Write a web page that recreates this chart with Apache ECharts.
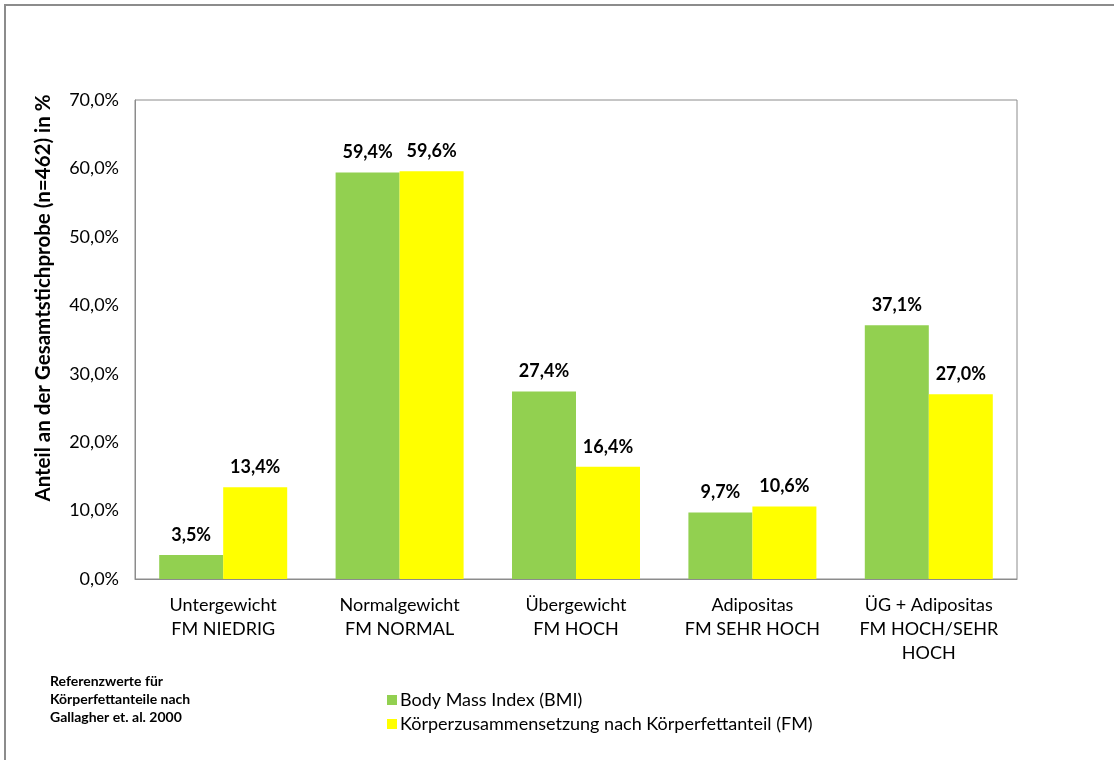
<!DOCTYPE html>
<html>
<head>
<meta charset="utf-8">
<script src="https://cdn.jsdelivr.net/npm/echarts@6/dist/echarts.min.js"></script>
<style>
html,body{margin:0;padding:0;background:#fff;}
#chart{width:1114px;height:760px;}
</style>
</head>
<body>
<div id="chart"></div>
<script>
// Categories (BMI class / body-fat class)
const categories = [
  'Untergewicht\nFM NIEDRIG',
  'Normalgewicht\nFM NORMAL',
  'Übergewicht\nFM HOCH',
  'Adipositas\nFM SEHR HOCH',
  'ÜG + Adipositas\nFM HOCH/SEHR\nHOCH'
];
// Share of the total sample in percent
const bmiValues = [3.5, 59.4, 27.4, 9.7, 37.1];
const fmValues = [13.4, 59.6, 16.4, 10.6, 27.0];
const seriesNames = ['Body Mass Index (BMI)', 'Körperzusammensetzung nach Körperfettanteil (FM)'];
const yAxisTitle = 'Anteil an der Gesamtstichprobe (n=462) in %';
const noteLines = ['Referenzwerte für', 'Körperfettanteile nach', 'Gallagher et. al. 2000'];

const FONT = 'Lato, "Open Sans", sans-serif';
const fmt = v => v.toFixed(1).replace('.', ',') + '%';

const chart = echarts.init(document.getElementById('chart'), null, {renderer: 'canvas'});
const labelCfg = {
  show: true,
  position: 'top',
  distance: 11,
  formatter: p => fmt(p.value),
  fontFamily: FONT,
  fontWeight: 'bold',
  fontSize: 18,
  color: '#000'
};

chart.setOption({
  animation: false,
  backgroundColor: '#fff',
  grid: {
    left: 135, right: 97, top: 100, bottom: 181,
    show: true, borderColor: '#8c8c8c', borderWidth: 1, backgroundColor: 'transparent'
  },
  legend: {
    orient: 'vertical',
    left: 382, top: 686,
    itemWidth: 10, itemHeight: 10, itemGap: 6,
    icon: 'rect',
    textStyle: {fontFamily: FONT, fontSize: 18, color: '#000', padding: [0, 0, 0, -2]},
    data: seriesNames
  },
  xAxis: {
    type: 'category',
    data: categories,
    axisLine: {lineStyle: {color: '#8c8c8c'}},
    axisTick: {show: false},
    axisLabel: {
      interval: 0, margin: 14, color: '#000',
      fontFamily: FONT, fontSize: 18, lineHeight: 24
    }
  },
  yAxis: {
    type: 'value',
    min: 0, max: 70, interval: 10,
    splitLine: {show: false},
    axisLine: {show: true, lineStyle: {color: '#8c8c8c'}},
    axisTick: {show: false},
    axisLabel: {
      formatter: v => v.toFixed(1).replace('.', ',') + '%',
      color: '#000', fontFamily: FONT, fontSize: 18, margin: 16
    }
  },
  series: [
    {
      name: seriesNames[0], type: 'bar', data: bmiValues,
      barWidth: 64, barGap: '0%',
      itemStyle: {color: '#92D050'},
      label: labelCfg
    },
    {
      name: seriesNames[1], type: 'bar', data: fmValues,
      barWidth: 64,
      itemStyle: {color: '#FFFF00'},
      label: labelCfg
    }
  ],
  graphic: [
    // outer frame
    {type: 'rect', shape: {x: 5, y: 5, width: 1200, height: 900}, style: {fill: 'none', stroke: '#8c8c8c', lineWidth: 2}, silent: true},
    {
      type: 'text', x: 43, y: 298, rotation: Math.PI / 2,
      style: {text: yAxisTitle, font: 'bold 20.5px ' + FONT, fill: '#000', textAlign: 'center', textVerticalAlign: 'middle'}
    },
    {
      type: 'text', x: 50, y: 672,
      style: {text: noteLines.join('\n'), font: 'bold 14px ' + FONT, lineHeight: 18, fill: '#000'}
    }
  ]
});
</script>
</body>
</html>
